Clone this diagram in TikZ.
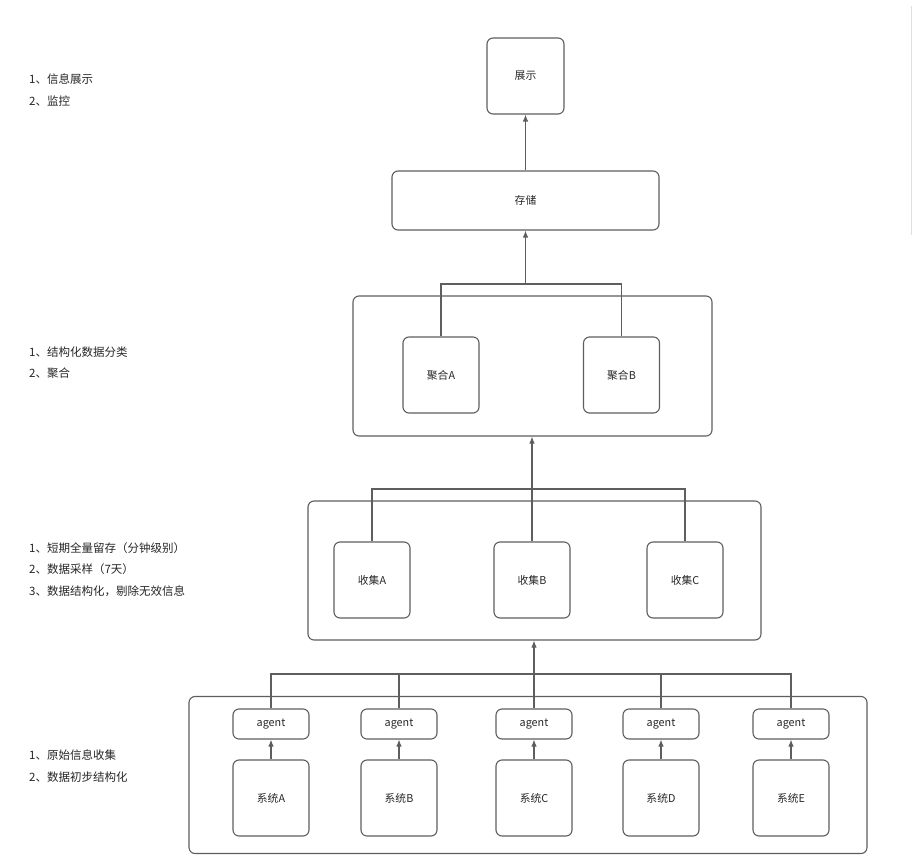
\documentclass[tikz,border=0pt]{standalone}
\usepackage{fontspec}
\newfontfamily\cjk{Noto Sans CJK SC}
\usetikzlibrary{arrows.meta}
\definecolor{linegray}{HTML}{5E5E5E}
\tikzset{
	box/.style={draw=linegray, line width=1.1pt, rounded corners=6pt, font=\cjk\fontsize{10.8}{12}\selectfont, text=black!85, inner sep=0pt},
	note/.style={anchor=west, font=\cjk\fontsize{11.5}{13}\selectfont, text=black!85, inner sep=0pt},
	link/.style={draw=linegray, line width=1.1pt},
	up/.style={link, -{Latex[length=7pt,width=5.5pt]}}
}
\begin{document}
\begin{tikzpicture}[x=1pt, y=-1pt]
	\useasboundingbox (0,0) rectangle (912,858);
	\draw[gray!25, line width=0.8pt] (911,6) -- (911,235);
	% notes
	\node[note] (n1a) at (29,79) {1、信息展示};
	\node[note] (n1b) at (29,101) {2、监控};
	\node[note] (n2a) at (29,352) {1、结构化数据分类};
	\node[note] (n2b) at (29,373) {2、聚合};
	\node[note] (n3a) at (29,548) {1、短期全量留存（分钟级别）};
	\node[note] (n3b) at (29,569) {2、数据采样（7天）};
	\node[note] (n3c) at (29,591) {3、数据结构化，剔除无效信息};
	\node[note] (n4a) at (29,755) {1、原始信息收集};
	\node[note] (n4b) at (29,777) {2、数据初步结构化};
	% boxes
	\node[box, minimum width=77pt, minimum height=76pt] (show) at (525.5,76) {展示};
	\node[box, minimum width=267pt, minimum height=59pt] (store) at (525.5,200.5) {存储};
	\node[box, minimum width=359pt, minimum height=140pt] (aggOuter) at (532.5,366) {};
	\node[box, minimum width=76pt, minimum height=76pt] (aggA) at (441,375) {聚合A};
	\node[box, minimum width=76pt, minimum height=76pt] (aggB) at (621.5,375) {聚合B};
	\node[box, minimum width=453pt, minimum height=139pt] (colOuter) at (534.5,570.5) {};
	\node[box, minimum width=76pt, minimum height=76pt] (colA) at (372,580) {收集A};
	\node[box, minimum width=76pt, minimum height=76pt] (colB) at (532,580) {收集B};
	\node[box, minimum width=76pt, minimum height=76pt] (colC) at (685,580) {收集C};
	\node[box, minimum width=678pt, minimum height=157pt] (sysOuter) at (528,775) {};
	\foreach \x/\n in {271/A, 399/B, 534/C, 661/D, 791/E} {
		\node[box, minimum width=76pt, minimum height=30pt] (agent\n) at (\x,724) {agent};
		\node[box, minimum width=76pt, minimum height=76pt] (sys\n) at (\x,798) {系统\n};
		\draw[up] (sys\n.north) -- (agent\n.south);
	}
	% connectors
	\coordinate (joinAgg) at (525.5,284);
	\coordinate (joinCol) at (532,489);
	\coordinate (joinSys) at (534,674);
	\draw[up] (store.north) -- (show.south);
	\draw[link] (aggA.north) |- (joinAgg) -| (aggB.north);
	\draw[up] (joinAgg) -- (store.south);
	\draw[link] (colA.north) |- (joinCol) -| (colC.north);
	\draw[up] (colB.north) -- (colB.north |- aggOuter.south);
	\draw[link] (agentA.north) |- (joinSys) -| (agentE.north);
	\draw[link] (agentB.north) -- (agentB.north |- joinSys);
	\draw[link] (agentD.north) -- (agentD.north |- joinSys);
	\draw[up] (agentC.north) -- (agentC.north |- colOuter.south);
\end{tikzpicture}
\end{document}
